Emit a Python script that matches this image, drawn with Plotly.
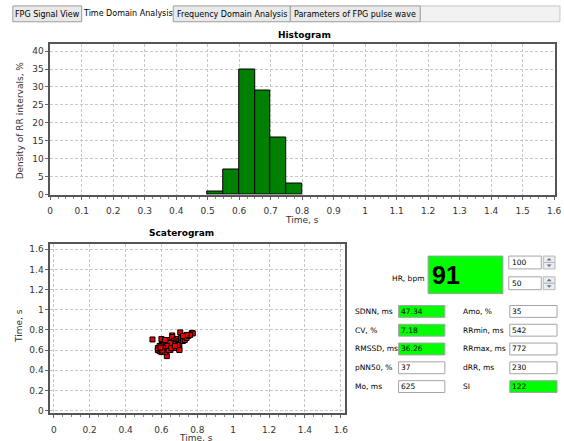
import plotly.graph_objects as go

W, H = 564, 441

# ---------------- data ----------------
hist_bin_left = [0.50, 0.55, 0.60, 0.65, 0.70, 0.75]
hist_bin_width = 0.05
hist_density = [1, 7, 35, 29, 16, 3]

scatter_rr_n = [0.55, 0.60, 0.705, 0.77, 0.775, 0.63, 0.70, 0.66, 0.59,
                0.58, 0.59, 0.59, 0.60, 0.60, 0.61, 0.61, 0.62, 0.62, 0.63,
                0.63, 0.63, 0.64, 0.64, 0.64, 0.65, 0.65, 0.65, 0.66, 0.66,
                0.66, 0.67, 0.67, 0.68, 0.68, 0.69, 0.69, 0.70, 0.70, 0.71,
                0.71, 0.72, 0.72, 0.73, 0.73, 0.74, 0.75, 0.76, 0.60, 0.62,
                0.58, 0.61, 0.64, 0.67, 0.70, 0.60, 0.62, 0.65, 0.68, 0.74,
                0.72, 0.69, 0.63, 0.59, 0.61, 0.655, 0.675, 0.605, 0.595]
scatter_rr_n1 = [0.705, 0.71, 0.775, 0.77, 0.765, 0.54, 0.61, 0.745, 0.605,
                 0.60, 0.62, 0.59, 0.63, 0.61, 0.60, 0.64, 0.62, 0.65, 0.61,
                 0.60, 0.66, 0.63, 0.68, 0.62, 0.65, 0.70, 0.60, 0.67, 0.64,
                 0.73, 0.69, 0.66, 0.70, 0.63, 0.68, 0.71, 0.69, 0.66, 0.70,
                 0.72, 0.71, 0.69, 0.73, 0.70, 0.72, 0.74, 0.75, 0.58, 0.58,
                 0.62, 0.66, 0.60, 0.62, 0.60, 0.65, 0.70, 0.67, 0.66, 0.75,
                 0.74, 0.65, 0.64, 0.64, 0.62, 0.62, 0.64, 0.595, 0.625]

tab_labels = ["FPG Signal View", "Time Domain Analysis",
              "Frequency Domain Analysis", "Parameters of FPG pulse wave"]
active_tab = 1

hr_label = "HR, bpm"
hr_value = "91"
hr_limits = ["100", "50"]

left_param_labels = ["SDNN, ms", "CV, %", "RMSSD, ms", "pNN50, %", "Mo, ms"]
left_param_values = ["47.34", "7.18", "36.26", "37", "625"]
left_param_flag = [True, True, True, False, False]
right_param_labels = ["Amo, %", "RRmin, ms", "RRmax, ms", "dRR, ms", "SI"]
right_param_values = ["35", "542", "772", "230", "122"]
right_param_flag = [False, False, False, False, True]

# ---------------- helpers (pixel -> paper) ----------------
def X(px):
    return px / W

def Y(py):
    return 1 - py / H

GREEN = "#00ff00"
GUI_FONT = "DejaVu Sans"
CHART_FONT = "DejaVu Sans"

shapes = []
annotations = []

def rect(x0, y0, x1, y1, fill, line="#a5a5a5", lw=1, layer="above"):
    shapes.append(dict(type="rect", xref="paper", yref="paper",
                       x0=X(x0), x1=X(x1), y0=Y(y1), y1=Y(y0),
                       fillcolor=fill, line=dict(color=line, width=lw), layer=layer))

def text(x, y, s, size=8, color="#000", xanchor="left", bold=False, angle=0, family=GUI_FONT):
    annotations.append(dict(xref="paper", yref="paper", x=X(x), y=Y(y),
                            text=("<b>%s</b>" % s) if bold else s,
                            showarrow=False, xanchor=xanchor, yanchor="middle",
                            textangle=angle, borderpad=0,
                            font=dict(family=family, size=size, color=color)))

def tri(cx, cy, up=True, color="#5a6f96"):
    if up:
        p = "M %f %f L %f %f L %f %f Z" % (X(cx - 2.5), Y(cy + 1.2), X(cx + 2.5), Y(cy + 1.2), X(cx), Y(cy - 1.3))
    else:
        p = "M %f %f L %f %f L %f %f Z" % (X(cx - 2.5), Y(cy - 1.2), X(cx + 2.5), Y(cy - 1.2), X(cx), Y(cy + 1.3))
    shapes.append(dict(type="path", xref="paper", yref="paper", path=p,
                       fillcolor=color, line=dict(width=0), layer="above"))

# ---------------- figure ----------------
fig = go.Figure()

fig.add_trace(go.Bar(
    x=hist_bin_left, y=hist_density, width=[hist_bin_width] * len(hist_bin_left),
    offset=0, marker=dict(color="#008000", line=dict(color="#000", width=1)),
    xaxis="x", yaxis="y", showlegend=False, hoverinfo="x+y"))

fig.add_trace(go.Scatter(
    x=scatter_rr_n, y=scatter_rr_n1, mode="markers",
    marker=dict(symbol="square", size=5, color="#ee0000",
                line=dict(color="#000", width=1)),
    xaxis="x2", yaxis="y2", showlegend=False))

axis_common = dict(
    showline=True, mirror=True, linecolor="#555", linewidth=1.5,
    showgrid=True, gridcolor="#c8c8c8", griddash="3px,2px", gridwidth=1,
    zeroline=False, ticks="outside", ticklen=3, tickcolor="#666",
    tickfont=dict(family=CHART_FONT, size=9, color="#333"),
    ticklabeloverflow="allow",
)

fig.update_layout(
    width=W, height=H, margin=dict(l=0, r=0, t=0, b=0),
    paper_bgcolor="white", plot_bgcolor="white", bargap=0,
    xaxis=dict(domain=[X(48), X(561)], range=[0, 1.603], dtick=0.1, tick0=0,
               anchor="y", ticklabelstandoff=4,
               minor=dict(ticks="outside", ticklen=2, dtick=0.025, tickcolor="#888",
                          showgrid=False),
               **axis_common),
    yaxis=dict(domain=[Y(197), Y(44)], range=[0, 42.1], dtick=5, tick0=0,
               anchor="x", **axis_common),
    xaxis2=dict(domain=[X(48), X(348)], range=[-0.02, 1.626], dtick=0.2, tick0=0,
                anchor="y2", ticklabelstandoff=4,
                minor=dict(ticks="outside", ticklen=2, dtick=0.05, tickcolor="#888",
                           showgrid=False),
                **axis_common),
    yaxis2=dict(domain=[Y(418), Y(247)], range=[-0.027, 1.65], dtick=0.2, tick0=0,
                anchor="x2", **axis_common),
)

# chart titles and axis titles
text(306, 35, "Histogram", size=9, bold=True, xanchor="center", family=CHART_FONT)
text(304, 223, "Time, s", size=9, color="#333", xanchor="center", family=CHART_FONT)
text(17, 122, "Density of RR intervals, %", size=9, color="#333", xanchor="center",
     angle=-90, family=CHART_FONT)
text(181, 236, "Scaterogram", size=9, bold=True, xanchor="center", family=CHART_FONT)
text(196, 443, "Time, s", size=9, color="#333", xanchor="center", family=CHART_FONT)
text(17, 330, "Time, s", size=9, color="#333", xanchor="center", angle=-90,
     family=CHART_FONT)

# ---------------- tab bar ----------------
rect(424, 6, 566, 22, "#f2f2f2", line="#c6c6c6")
tab_boxes = [(10, 80), (86, 169), (173, 292), (292, 424)]
for i, (lab, (a, b)) in enumerate(zip(tab_labels, tab_boxes)):
    if i == active_tab:
        text((a + b) / 2, 14, lab, size=8, xanchor="center")
    else:
        rect(a, 6, b, 22, "#e9e9e9", line="#9c9c9c")
        text((a + b) / 2, 15, lab, size=8, xanchor="center")

# ---------------- HR block ----------------
text(429, 282, hr_label, size=7.5, xanchor="right")
rect(432, 259, 508, 297, GREEN, line="#a0a0a0")
annotations.append(dict(xref="paper", yref="paper", x=X(434), y=Y(278), text="<b>%s</b>" % hr_value,
                        showarrow=False, xanchor="left", yanchor="middle",
                        font=dict(family="Liberation Sans", size=25, color="#000")))
for (y0, y1), v in zip([(259, 272), (280, 293)], hr_limits):
    rect(514, y0, 547, y1, "white", line="#a5a5a5")
    text(516, (y0 + y1) / 2, v, size=7.5)
    ym = (y0 + y1) / 2
    rect(549, y0, 561, ym, "#ececec", line="#b8b8b8")
    rect(549, ym, 561, y1, "#ececec", line="#b8b8b8")
    tri(555, (y0 + ym) / 2, up=True)
    tri(555, (ym + y1) / 2, up=False)

# ---------------- parameter grid ----------------
row_tops = [309, 328, 347, 366, 385]
for i, top in enumerate(row_tops):
    yc = top + 6
    text(357, yc, left_param_labels[i], size=7.5)
    rect(402, top, 449, top + 12, GREEN if left_param_flag[i] else "white", line="#a5a5a5")
    text(403, yc, left_param_values[i], size=7.5)
    text(466, yc, right_param_labels[i], size=7.5)
    rect(515, top, 563, top + 12, GREEN if right_param_flag[i] else "white", line="#a5a5a5")
    text(516, yc, right_param_values[i], size=7.5)

fig.update_layout(shapes=shapes, annotations=annotations)
fig.write_html("out.html", config={"displayModeBar": False},
               post_script="document.body.style.margin='0';document.body.style.overflow='hidden';")
